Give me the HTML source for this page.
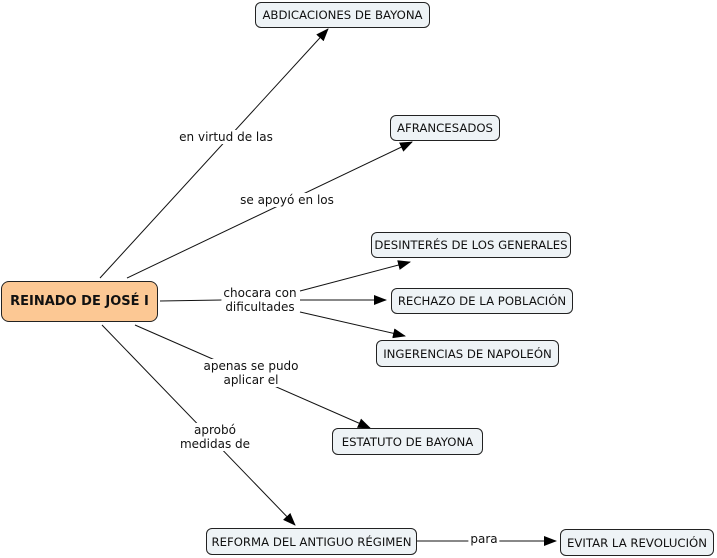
<!DOCTYPE html>
<html><head><meta charset="utf-8"><style>
body{margin:0;background:#fff;width:717px;height:558px;overflow:hidden;position:relative;font-family:"DejaVu Sans","Liberation Sans",sans-serif;}
.n{position:absolute;box-sizing:border-box;border:1px solid #222;border-radius:6px;background:#eef3f6;font-size:11.7px;color:#111;display:flex;align-items:center;justify-content:center;white-space:nowrap;}
.l{position:absolute;font-size:12px;color:#111;background:#fff;text-align:center;line-height:14px;white-space:nowrap;transform:translate(-50%,-50%);padding:0 2px;}
svg{position:absolute;left:0;top:0}
</style></head><body>
<svg width="717" height="558">
<defs><marker id="a" markerWidth="13" markerHeight="10" refX="12" refY="5" orient="auto" markerUnits="userSpaceOnUse"><path d="M0,0L13,5L0,10z" fill="#000"/></marker></defs>
<g stroke="#111" stroke-width="1" fill="none">
<line x1="100" y1="278" x2="328" y2="29" marker-end="url(#a)"/>
<line x1="127" y1="278" x2="412" y2="142" marker-end="url(#a)"/>
<line x1="160" y1="301" x2="222" y2="300"/>
<line x1="300" y1="291" x2="410" y2="262" marker-end="url(#a)"/>
<line x1="300" y1="300" x2="386" y2="300" marker-end="url(#a)"/>
<line x1="300" y1="312" x2="405" y2="336" marker-end="url(#a)"/>
<line x1="135" y1="325" x2="370" y2="428" marker-end="url(#a)"/>
<line x1="102" y1="325" x2="295" y2="525" marker-end="url(#a)"/>
<line x1="416" y1="541" x2="556" y2="541" marker-end="url(#a)"/>
</g></svg>
<div class="n" style="left:1px;top:281px;width:157px;height:41px;background:#fcc894;font-weight:bold;font-size:13px;border-radius:8px">REINADO DE JOSÉ I</div>
<div class="n" style="left:255px;top:2px;width:175px;height:26px">ABDICACIONES DE BAYONA</div>
<div class="n" style="left:390px;top:115px;width:110px;height:26px">AFRANCESADOS</div>
<div class="n" style="left:371px;top:232px;width:200px;height:26px">DESINTERÉS DE LOS GENERALES</div>
<div class="n" style="left:391px;top:288px;width:182px;height:26px">RECHAZO DE LA POBLACIÓN</div>
<div class="n" style="left:376px;top:340px;width:183px;height:27px">INGERENCIAS DE NAPOLEÓN</div>
<div class="n" style="left:332px;top:428px;width:151px;height:27px">ESTATUTO DE BAYONA</div>
<div class="n" style="left:206px;top:528px;width:211px;height:27px">REFORMA DEL ANTIGUO RÉGIMEN</div>
<div class="n" style="left:560px;top:529px;width:154px;height:27px">EVITAR LA REVOLUCIÓN</div>
<div class="l" style="left:226px;top:137px">en virtud de las</div>
<div class="l" style="left:287px;top:200px">se apoyó en los</div>
<div class="l" style="left:260px;top:300px">chocara con<br>dificultades</div>
<div class="l" style="left:251px;top:373px">apenas se pudo<br>aplicar el</div>
<div class="l" style="left:215px;top:437px">aprobó<br>medidas de</div>
<div class="l" style="left:484px;top:539px">para</div>
</body></html>
